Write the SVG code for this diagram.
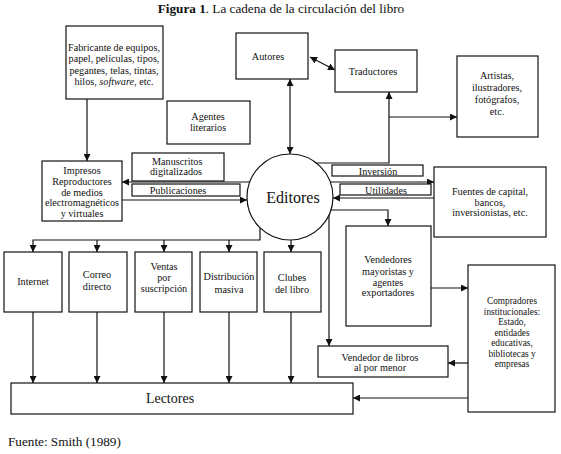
<svg xmlns="http://www.w3.org/2000/svg" width="561" height="454" viewBox="0 0 561 454">
<style>
text{font-family:"Liberation Serif","Times New Roman",serif;font-size:10.2px;fill:#111;text-anchor:middle}
.box{fill:#fff;stroke:#111;stroke-width:1.2}
.ln{fill:none;stroke:#111;stroke-width:1.2}
.big{font-size:16px}
.lec{font-size:14px}
.sm{font-size:9.3px}
</style>
<defs>
<marker id="a" viewBox="0 0 10 10" refX="10" refY="5" markerWidth="7" markerHeight="7" markerUnits="userSpaceOnUse" orient="auto-start-reverse">
<path d="M0,0 L10,5 L0,10 Z" fill="#111"/>
</marker>
</defs>
<rect width="561" height="454" fill="#fff"/>
<text x="281" y="13" style="font-size:13.2px"><tspan font-weight="bold">Figura 1</tspan>. La cadena de la circulación del libro</text>

<g id="connectors">
<line class="ln" x1="87" y1="99" x2="87" y2="161" marker-end="url(#a)"/>
<line class="ln" x1="310" y1="57" x2="335" y2="70" marker-start="url(#a)" marker-end="url(#a)"/>
<line class="ln" x1="290" y1="79" x2="290" y2="154" marker-start="url(#a)" marker-end="url(#a)"/>
<polyline class="ln" points="316,163 389,163 389,92" marker-end="url(#a)"/>
<line class="ln" x1="389" y1="117" x2="457" y2="117" marker-end="url(#a)"/>
<line class="ln" x1="330" y1="182" x2="434" y2="182" marker-end="url(#a)"/>
<line class="ln" x1="434" y1="198" x2="333" y2="198" marker-end="url(#a)"/>
<polyline class="ln" points="331,210 388,210 388,226" marker-end="url(#a)"/>
<line class="ln" x1="431" y1="288" x2="468" y2="288" marker-end="url(#a)"/>
<line class="ln" x1="468" y1="363" x2="448" y2="363" marker-end="url(#a)"/>
<line class="ln" x1="468" y1="398" x2="353" y2="398" marker-end="url(#a)"/>
<line class="ln" x1="329" y1="215" x2="329" y2="346" marker-end="url(#a)"/>
<line class="ln" x1="250" y1="182" x2="122" y2="182" marker-end="url(#a)"/>
<line class="ln" x1="122" y1="200" x2="247" y2="200" marker-end="url(#a)"/>
<polyline class="ln" points="260,228 260,240 33,240 33,252" marker-end="url(#a)"/>
<line class="ln" x1="97" y1="240" x2="97" y2="252" marker-end="url(#a)"/>
<line class="ln" x1="164" y1="240" x2="164" y2="252" marker-end="url(#a)"/>
<line class="ln" x1="229" y1="240" x2="229" y2="252" marker-end="url(#a)"/>
<line class="ln" x1="291" y1="240" x2="291" y2="252" marker-end="url(#a)"/>
<line class="ln" x1="33" y1="312" x2="33" y2="383" marker-end="url(#a)"/>
<line class="ln" x1="97" y1="312" x2="97" y2="383" marker-end="url(#a)"/>
<line class="ln" x1="164" y1="312" x2="164" y2="383" marker-end="url(#a)"/>
<line class="ln" x1="229" y1="312" x2="229" y2="383" marker-end="url(#a)"/>
<line class="ln" x1="291" y1="312" x2="291" y2="383" marker-end="url(#a)"/>
</g>

<g id="fabricante">
<rect class="box" x="66" y="26" width="97" height="73"/>
<text x="114" y="51">Fabricante de equipos,</text>
<text x="114" y="62">papel, películas, tipos,</text>
<text x="114" y="74">pegantes, telas, tintas,</text>
<text x="114" y="85">hilos, <tspan font-style="italic">software</tspan>, etc.</text>
</g>
<g id="agentes">
<rect class="box" x="167" y="101" width="83" height="43"/>
<text x="208" y="120">Agentes</text>
<text x="208" y="131">literarios</text>
</g>
<g id="autores">
<rect class="box" x="236" y="33" width="72" height="46"/>
<text x="268" y="60">Autores</text>
</g>
<g id="traductores">
<rect class="box" x="335" y="50" width="82" height="42"/>
<text x="373" y="75">Traductores</text>
</g>
<g id="artistas">
<rect class="box" x="457" y="56" width="81" height="81"/>
<text x="497" y="79">Artistas,</text>
<text x="497" y="91">ilustradores,</text>
<text x="497" y="103">fotógrafos,</text>
<text x="497" y="115">etc.</text>
</g>
<g id="editores">
<circle class="box" cx="290" cy="197" r="43"/>
<text class="big" x="293" y="203">Editores</text>
</g>
<g id="inversion">
<rect class="box" x="332" y="165" width="91" height="11"/>
<text x="378" y="174.5">Inversión</text>
</g>
<g id="utilidades">
<rect class="box" x="340" y="184" width="91" height="11"/>
<text x="386" y="193.5">Utilidades</text>
</g>
<g id="fuentes">
<rect class="box" x="434" y="167" width="112" height="70"/>
<text x="490" y="195">Fuentes de capital,</text>
<text x="490" y="206">bancos,</text>
<text x="490" y="216">inversionistas, etc.</text>
</g>
<g id="vendedores">
<rect class="box" x="346" y="226" width="85" height="100"/>
<text x="388" y="263">Vendedores</text>
<text x="388" y="275">mayoristas y</text>
<text x="388" y="286">agentes</text>
<text x="388" y="296">exportadores</text>
</g>
<g id="compradores">
<rect class="box" x="468" y="265" width="87" height="147"/>
<text class="sm" x="512" y="304">Compradores</text>
<text class="sm" x="512" y="314.5">institucionales:</text>
<text class="sm" x="512" y="325">Estado,</text>
<text class="sm" x="512" y="335.5">entidades</text>
<text class="sm" x="512" y="346">educativas,</text>
<text class="sm" x="512" y="356.5">bibliotecas y</text>
<text class="sm" x="512" y="367">empresas</text>
</g>
<g id="vendedor-libros">
<rect class="box" x="318" y="346" width="130" height="31"/>
<text x="380" y="361">Vendedor de libros</text>
<text x="380" y="371">al por menor</text>
</g>
<g id="impresos">
<rect class="box" x="42" y="161" width="80" height="60"/>
<text x="82" y="174">Impresos</text>
<text x="82" y="185">Reproductores</text>
<text x="82" y="196">de medios</text>
<text x="82" y="206">electromagnéticos</text>
<text x="82" y="217">y virtuales</text>
</g>
<g id="manuscritos">
<rect class="box" x="132" y="153" width="92" height="28"/>
<text x="152" y="165" style="text-anchor:start">Manuscritos</text>
<text x="150" y="175" style="text-anchor:start">digitalizados</text>
</g>
<g id="publicaciones">
<rect class="box" x="132" y="184" width="108" height="12"/>
<text x="178" y="194">Publicaciones</text>
</g>
<g id="internet">
<rect class="box" x="4" y="252" width="58" height="60"/>
<text x="33" y="285">Internet</text>
</g>
<g id="correo">
<rect class="box" x="69" y="252" width="58" height="60"/>
<text x="97" y="278">Correo</text>
<text x="97" y="290">directo</text>
</g>
<g id="ventas">
<rect class="box" x="135" y="252" width="57" height="60"/>
<text x="164" y="270">Ventas</text>
<text x="164" y="281">por</text>
<text x="164" y="292">suscripción</text>
</g>
<g id="distribucion">
<rect class="box" x="200" y="252" width="57" height="60"/>
<text x="229" y="280">Distribución</text>
<text x="229" y="293">masiva</text>
</g>
<g id="clubes">
<rect class="box" x="264" y="252" width="57" height="60"/>
<text x="292" y="281">Clubes</text>
<text x="292" y="293">del libro</text>
</g>
<g id="lectores">
<rect class="box" x="11" y="383" width="342" height="31"/>
<text class="lec" x="170" y="403">Lectores</text>
</g>
<text x="8" y="446" style="font-size:13.2px;text-anchor:start">Fuente: Smith (1989)</text>
</svg>
